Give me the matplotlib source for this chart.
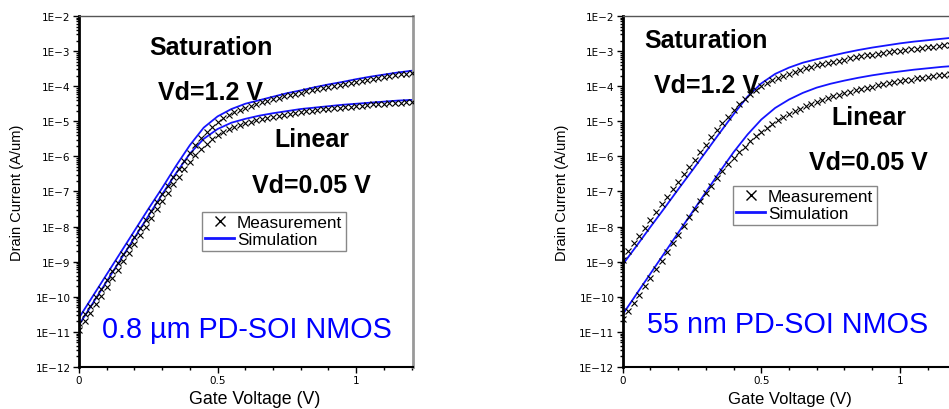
import numpy as np
import matplotlib
matplotlib.use("Agg")
import matplotlib.pyplot as plt
from matplotlib.lines import Line2D
from matplotlib.ticker import FuncFormatter, LogLocator, MultipleLocator

# gate voltage sweeps
vg_meas = np.round(np.arange(0, 1.2001, 0.02), 2)
vg_sim = np.round(np.arange(0, 1.2001, 0.05), 2)

# --- 0.8 um device, log10(Id) ---
a_sat_meas = [-10.75, -10.50, -10.26, -10.01, -9.77, -9.52, -9.27, -9.03, -8.78, -8.54,
              -8.29, -8.04, -7.80, -7.55, -7.31, -7.07, -6.83, -6.59, -6.35, -6.12,
              -5.90, -5.68, -5.48, -5.30, -5.15, -5.02, -4.91, -4.82, -4.74, -4.67,
              -4.61, -4.55, -4.50, -4.45, -4.41, -4.37, -4.33, -4.29, -4.25, -4.21,
              -4.18, -4.14, -4.11, -4.08, -4.05, -4.02, -3.99, -3.96, -3.93, -3.90,
              -3.87, -3.84, -3.82, -3.79, -3.76, -3.74, -3.71, -3.69, -3.66, -3.64, -3.62]
a_lin_meas = [-10.95, -10.70, -10.46, -10.21, -9.97, -9.72, -9.47, -9.23, -8.98, -8.74,
              -8.49, -8.24, -8.00, -7.75, -7.51, -7.27, -7.03, -6.80, -6.58, -6.36,
              -6.15, -5.96, -5.79, -5.64, -5.51, -5.40, -5.31, -5.23, -5.16, -5.10,
              -5.05, -5.01, -4.97, -4.93, -4.90, -4.87, -4.84, -4.81, -4.79, -4.76,
              -4.74, -4.72, -4.70, -4.68, -4.66, -4.64, -4.62, -4.61, -4.59, -4.58,
              -4.56, -4.55, -4.53, -4.52, -4.51, -4.50, -4.49, -4.48, -4.47, -4.46, -4.45]
a_sat_sim = [-10.60, -9.98, -9.36, -8.74, -8.12, -7.50, -6.90, -6.27, -5.68, -5.18,
             -4.86, -4.65, -4.50, -4.40, -4.30, -4.20, -4.12, -4.03, -3.95, -3.88,
             -3.80, -3.73, -3.67, -3.61, -3.56]
a_lin_sim = [-10.80, -10.18, -9.56, -8.94, -8.32, -7.70, -7.08, -6.48, -5.92, -5.50,
             -5.22, -5.04, -4.93, -4.84, -4.77, -4.71, -4.65, -4.61, -4.57, -4.53,
             -4.50, -4.47, -4.44, -4.41, -4.39]

# --- 55 nm device, log10(Id) ---
b_sat_meas = [-8.95, -8.70, -8.48, -8.26, -8.03, -7.81, -7.59, -7.37, -7.15, -6.94,
              -6.72, -6.51, -6.30, -6.09, -5.88, -5.67, -5.46, -5.26, -5.06, -4.87,
              -4.69, -4.52, -4.37, -4.23, -4.11, -4.00, -3.91, -3.83, -3.76, -3.70,
              -3.64, -3.59, -3.54, -3.49, -3.45, -3.41, -3.37, -3.34, -3.30, -3.27,
              -3.24, -3.21, -3.18, -3.15, -3.12, -3.10, -3.07, -3.05, -3.03, -3.01,
              -2.99, -2.97, -2.95, -2.93, -2.91, -2.89, -2.88, -2.86, -2.84, -2.83, -2.81]
b_lin_meas = [-10.63, -10.40, -10.17, -9.94, -9.70, -9.46, -9.22, -8.98, -8.73, -8.48,
              -8.23, -7.98, -7.74, -7.50, -7.26, -7.04, -6.83, -6.62, -6.42, -6.23,
              -6.05, -5.88, -5.72, -5.57, -5.43, -5.30, -5.18, -5.07, -4.97, -4.88,
              -4.79, -4.71, -4.64, -4.57, -4.51, -4.45, -4.39, -4.34, -4.29, -4.24,
              -4.20, -4.16, -4.12, -4.08, -4.04, -4.01, -3.98, -3.95, -3.92, -3.89,
              -3.86, -3.83, -3.81, -3.78, -3.76, -3.73, -3.71, -3.69, -3.67, -3.65, -3.63]
b_sat_sim = [-9.08, -8.55, -8.01, -7.48, -6.94, -6.41, -5.87, -5.33, -4.80, -4.30,
             -3.92, -3.65, -3.47, -3.33, -3.23, -3.14, -3.05, -2.97, -2.90, -2.84,
             -2.78, -2.73, -2.69, -2.65, -2.61]
b_lin_sim = [-10.50, -9.92, -9.34, -8.76, -8.18, -7.60, -7.02, -6.44, -5.88, -5.38,
             -4.95, -4.62, -4.38, -4.19, -4.04, -3.93, -3.84, -3.76, -3.69, -3.63,
             -3.58, -3.53, -3.49, -3.45, -3.42]

W, H = 949, 410
BLUE = '#1414ff'
TXT = 'Liberation Sans'


def fx(px):
    return px / W


def fy(py):
    return 1 - py / H


def e_fmt(v, pos):
    return '1E\u2212%d' % int(round(-np.log10(v)))


def setup(ax):
    ax.set_yscale('log')
    ax.set_ylim(1e-12, 1e-2)
    ax.set_xlim(0, 1.205)
    ax.yaxis.set_major_locator(LogLocator(base=10, numticks=20))
    ax.yaxis.set_minor_locator(LogLocator(base=10, subs=np.arange(2, 10), numticks=20))
    ax.yaxis.set_major_formatter(FuncFormatter(e_fmt))
    ax.xaxis.set_major_locator(MultipleLocator(0.5))
    ax.xaxis.set_minor_locator(MultipleLocator(0.1))
    ax.xaxis.set_major_formatter(FuncFormatter(lambda v, p: '%g' % v))
    ax.tick_params(which='both', direction='out', width=1, pad=2)
    ax.tick_params(which='major', length=4, labelsize=7.5)
    ax.tick_params(which='minor', length=2.5)
    for lab in ax.get_xticklabels() + ax.get_yticklabels():
        lab.set_fontfamily('DejaVu Sans')
    ax.spines['left'].set_linewidth(2)
    ax.spines['bottom'].set_linewidth(1.5)
    ax.spines['top'].set_color('#555555')
    ax.spines['top'].set_linewidth(1)
    ax.spines['right'].set_color('#999999')
    ax.spines['right'].set_linewidth(2)


def draw(ax, sat_m, lin_m, sat_s, lin_s):
    for m in (sat_m, lin_m):
        ax.plot(vg_meas, 10 ** np.array(m), ls='none', marker='x', ms=4,
                mew=0.8, color='black', zorder=3)
    for s in (sat_s, lin_s):
        ax.plot(vg_sim, 10 ** np.array(s), color=BLUE, lw=1.3, zorder=2)


def add_legend(ax, x, y):
    handles = [Line2D([], [], ls='none', marker='x', ms=7, mew=1, color='black'),
               Line2D([], [], color=BLUE, lw=2)]
    leg = ax.legend(handles, ['Measurement', 'Simulation'], loc='upper left',
                    bbox_to_anchor=(fx(x), fy(y)), bbox_transform=fig.transFigure,
                    borderaxespad=0, borderpad=0.2, labelspacing=0.12,
                    handlelength=1.7, handletextpad=0.15, fancybox=False,
                    edgecolor='#888888', framealpha=1,
                    prop={'family': TXT, 'size': 12.3})
    leg.get_frame().set_linewidth(1)


fig = plt.figure(figsize=(W / 100, H / 100), dpi=100)
ax1 = fig.add_axes([fx(79), fy(368), 334 / W, 351 / H])
ax2 = fig.add_axes([fx(622.7), fy(368), 334 / W, 351 / H])

for ax in (ax1, ax2):
    setup(ax)

draw(ax1, a_sat_meas, a_lin_meas, a_sat_sim, a_lin_sim)
draw(ax2, b_sat_meas, b_lin_meas, b_sat_sim, b_lin_sim)
add_legend(ax1, 202, 213)
add_legend(ax2, 733, 187)

bold = dict(family=TXT, size=18, weight='bold', ha='center', va='baseline')
fig.text(fx(210.5), fy(55), 'Saturation', **bold)
fig.text(fx(211), fy(100), 'Vd=1.2 V', **bold)
fig.text(fx(312), fy(147), 'Linear', **bold)
fig.text(fx(311), fy(193), 'Vd=0.05 V', **bold)
fig.text(fx(706), fy(48), 'Saturation', **bold)
fig.text(fx(706), fy(93), 'Vd=1.2 V', **bold)
fig.text(fx(869), fy(125), 'Linear', **bold)
fig.text(fx(868), fy(170), 'Vd=0.05 V', **bold)

fig.text(fx(246.5), fy(338), '0.8 \u00b5m PD-SOI NMOS', family=TXT, size=20.7,
         color='#0000ff', ha='center', va='baseline')
fig.text(fx(787.5), fy(333), '55 nm PD-SOI NMOS', family=TXT, size=20.7,
         color='#0000ff', ha='center', va='baseline')

# axis labels
fig.text(fx(255), fy(404), 'Gate Voltage (V)', family=TXT, size=12.8,
         ha='center', va='baseline')
fig.text(fx(790), fy(404), 'Gate Voltage (V)', family=TXT, size=12,
         ha='center', va='baseline')
for xpos in (17, 562):
    fig.text(fx(xpos), fy(192.5), 'Drain Current (A/um)', family=TXT, size=10.5,
             rotation=90, ha='center', va='center')

fig.savefig('out.png', dpi=100)
